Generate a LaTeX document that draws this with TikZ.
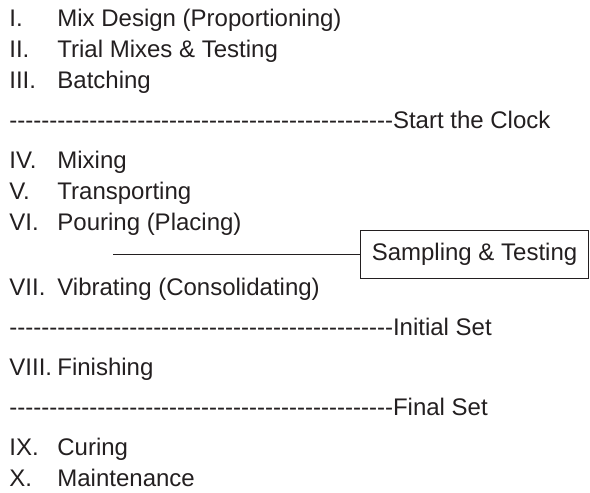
\documentclass[tikz,border=0pt]{standalone}
\usepackage{fontspec}
\setmainfont{Liberation Sans}
\usepackage{xcolor}
\definecolor{tinta}{RGB}{35,31,32}
\usepackage{tikz}
\usetikzlibrary{positioning}

% hyphens kept apart so that -- does not become a dash
\newcommand{\cuatroguiones}{-\kern0pt-\kern0pt-\kern0pt-\kern0pt}
\newcommand{\guiones}{\cuatroguiones\cuatroguiones\cuatroguiones\cuatroguiones\cuatroguiones\cuatroguiones\cuatroguiones\cuatroguiones\cuatroguiones\cuatroguiones\cuatroguiones\cuatroguiones}

\tikzset{
  stagenum/.style={anchor=base west, inner sep=0pt, text=tinta},
  stagelabel/.style={anchor=base west, inner sep=0pt, text=tinta},
  clockrow/.style={anchor=base west, inner sep=0pt, text=tinta},
  samplebox/.style={draw=tinta, line width=0.5pt, anchor=west, inner sep=0pt,
    minimum width=114pt, minimum height=24pt, text=tinta}
}

\begin{document}
\begin{tikzpicture}[x=0.5pt, y=-0.5pt, font=\fontsize{12}{14}\selectfont]
  \useasboundingbox (0,0) rectangle (590,493);

  % Etapas
  \foreach \n/\lbl/\y in {I/Mix Design (Proportioning)/18,
                          II/Trial Mixes \& Testing/49,
                          III/Batching/80,
                          IV/Mixing/160,
                          V/Transporting/191,
                          VI/Pouring (Placing)/222,
                          VII/Vibrating (Consolidating)/287,
                          VIII/Finishing/367,
                          IX/Curing/447,
                          X/Maintenance/478} {
    \node[stagenum] (num-\n) at (9,{\y+8.6}) {\n.};
    \node[stagelabel] (lbl-\n) at (57,{\y+8.6}) {\lbl};
  }

  % Hitos
  \foreach \name/\lbl/\y in {clock/Start the Clock/120,
                             initial/Initial Set/327,
                             final/Final Set/407} {
    \node[clockrow] (\name) at (9,{\y+8.6}) {\guiones\lbl};
  }

  % Muestreo
  \node[samplebox] (sampling) at (360,254) {Sampling \& Testing};
  \coordinate (lineStart) at (113,254);
  \draw[tinta, line width=0.5pt] (lineStart) -- (sampling.west);
\end{tikzpicture}
\end{document}
